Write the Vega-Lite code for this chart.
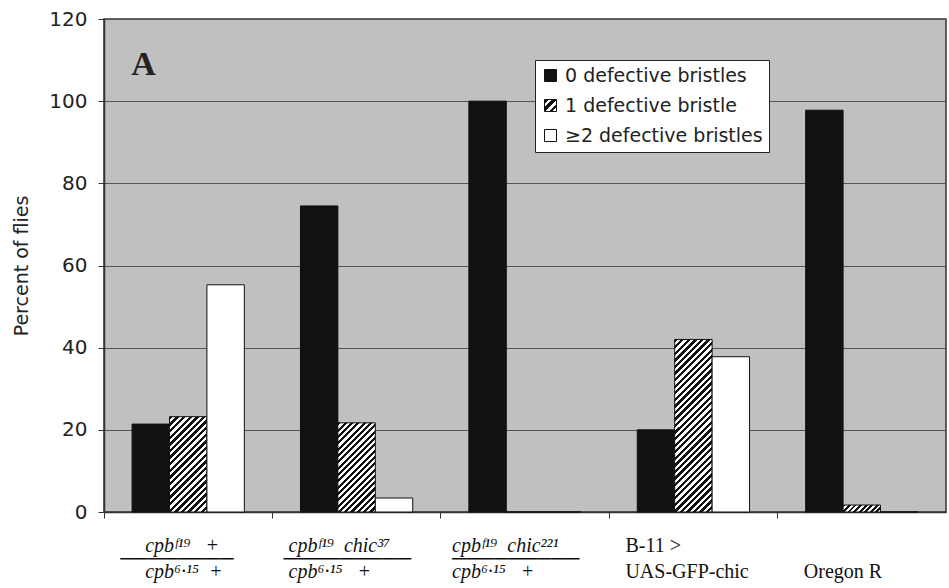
{
  "$schema": "https://vega.github.io/schema/vega-lite/v6.json",
  "width": 842,
  "height": 493,
  "autosize": {"type": "none"},
  "padding": {"left": 104, "top": 19, "right": 3, "bottom": 76},
  "background": "white",
  "config": {"view": {"fill": "#c0c0c0", "stroke": "#333", "strokeWidth": 1.5}},
  "data": {
    "values": [
      {"genotype": "cpbF19 +/cpb6.15 +", "series": "0 defective bristles", "percent": 21.4},
      {"genotype": "cpbF19 +/cpb6.15 +", "series": "1 defective bristle", "percent": 23.2},
      {"genotype": "cpbF19 +/cpb6.15 +", "series": "≥2 defective bristles", "percent": 55.3},
      {"genotype": "cpbF19 chic37/cpb6.15 +", "series": "0 defective bristles", "percent": 74.5},
      {"genotype": "cpbF19 chic37/cpb6.15 +", "series": "1 defective bristle", "percent": 21.7},
      {"genotype": "cpbF19 chic37/cpb6.15 +", "series": "≥2 defective bristles", "percent": 3.4},
      {"genotype": "cpbF19 chic221/cpb6.15 +", "series": "0 defective bristles", "percent": 100},
      {"genotype": "cpbF19 chic221/cpb6.15 +", "series": "1 defective bristle", "percent": 0},
      {"genotype": "cpbF19 chic221/cpb6.15 +", "series": "≥2 defective bristles", "percent": 0},
      {"genotype": "B-11 > UAS-GFP-chic", "series": "0 defective bristles", "percent": 20.0},
      {"genotype": "B-11 > UAS-GFP-chic", "series": "1 defective bristle", "percent": 42.0},
      {"genotype": "B-11 > UAS-GFP-chic", "series": "≥2 defective bristles", "percent": 37.8},
      {"genotype": "Oregon R", "series": "0 defective bristles", "percent": 97.8},
      {"genotype": "Oregon R", "series": "1 defective bristle", "percent": 1.7},
      {"genotype": "Oregon R", "series": "≥2 defective bristles", "percent": 0}
    ]
  },
  "layer": [
    {
      "mark": {"type": "bar", "stroke": "#111", "strokeWidth": 1},
      "encoding": {
        "x": {
          "field": "genotype", "type": "nominal", "sort": null,
          "scale": {"paddingInner": 0, "paddingOuter": 0},
          "axis": {
            "title": null, "grid": false, "bandPosition": 0, "labelAngle": 0,
            "labelAlign": "left", "labelBaseline": "top", "labelOffset": -73,
            "labelFont": "Liberation Serif", "labelFontSize": 20, "labelColor": "#111",
            "labelLineHeight": 13, "labelPadding": 17, "labelOverlap": false, "labelBound": false, "labelLimit": 400,
            "labelFontStyle": {"condition": {"test": "datum.value === 'B-11 > UAS-GFP-chic' || datum.value === 'Oregon R'", "value": "normal"}, "value": "italic"},
            "tickSize": 6, "tickColor": "#333", "domainColor": "#333", "domainWidth": 1.5,
            "labelExpr": "datum.value === 'cpbF19 +/cpb6.15 +' ? ['\u200b\u00a0\u00a0\u00a0\u00a0\u00a0\u00a0cpbᶠ¹⁹\u00a0\u00a0\u00a0+', '\u200b\u00a0────────', '\u200b\u00a0\u00a0\u00a0\u00a0\u00a0\u00a0cpb⁶·¹⁵\u00a0\u00a0+'] : datum.value === 'cpbF19 chic37/cpb6.15 +' ? ['\u200b\u00a0cpbᶠ¹⁹\u00a0\u00a0chic³⁷', '─────────', '\u200b\u00a0cpb⁶·¹⁵\u00a0\u00a0\u00a0+'] : datum.value === 'cpbF19 chic221/cpb6.15 +' ? ['cpbᶠ¹⁹\u00a0\u00a0chic²²¹', '─────────', 'cpb⁶·¹⁵\u00a0\u00a0\u00a0+'] : datum.value === 'B-11 > UAS-GFP-chic' ? ['\u200b\u00a0B-11 >', '\u200b', '\u200b\u00a0UAS-GFP-chic'] : ['\u200b', '\u200b', '\u200b\u00a0\u00a0\u00a0Oregon R']"
          }
        },
        "xOffset": {
          "field": "series", "type": "nominal",
          "scale": {"domain": ["0 defective bristles", "1 defective bristle", "≥2 defective bristles"], "paddingInner": 0, "paddingOuter": 0.75}
        },
        "y": {
          "field": "percent", "type": "quantitative",
          "scale": {"domain": [0, 120], "nice": false},
          "axis": {
            "title": "Percent of flies", "values": [0, 20, 40, 60, 80, 100, 120],
            "labelFont": "DejaVu Sans", "labelFontSize": 20, "labelColor": "#222", "labelPadding": 11,
            "tickSize": 6, "tickColor": "#333", "domainColor": "#333", "domainWidth": 1.5,
            "gridColor": "#555", "gridWidth": 1,
            "titleFont": "DejaVu Sans", "titleFontSize": 19, "titleFontWeight": "normal", "titleColor": "#222", "titlePadding": 17
          }
        },
        "fill": {
          "condition": [
            {"test": "datum.series === '1 defective bristle' && datum.genotype === 'cpbF19 +/cpb6.15 +'",
             "value": {"gradient": "linear", "x1": 0, "y1": 0, "x2": 0.4737, "y2": 1.2066, "stops": [{"offset":0,"color":"#111"},{"offset":0.025,"color":"#111"},{"offset":0.025,"color":"#fff"},{"offset":0.05,"color":"#fff"},{"offset":0.05,"color":"#111"},{"offset":0.075,"color":"#111"},{"offset":0.075,"color":"#fff"},{"offset":0.1,"color":"#fff"},{"offset":0.1,"color":"#111"},{"offset":0.125,"color":"#111"},{"offset":0.125,"color":"#fff"},{"offset":0.15,"color":"#fff"},{"offset":0.15,"color":"#111"},{"offset":0.175,"color":"#111"},{"offset":0.175,"color":"#fff"},{"offset":0.2,"color":"#fff"},{"offset":0.2,"color":"#111"},{"offset":0.225,"color":"#111"},{"offset":0.225,"color":"#fff"},{"offset":0.25,"color":"#fff"},{"offset":0.25,"color":"#111"},{"offset":0.275,"color":"#111"},{"offset":0.275,"color":"#fff"},{"offset":0.3,"color":"#fff"},{"offset":0.3,"color":"#111"},{"offset":0.325,"color":"#111"},{"offset":0.325,"color":"#fff"},{"offset":0.35,"color":"#fff"},{"offset":0.35,"color":"#111"},{"offset":0.375,"color":"#111"},{"offset":0.375,"color":"#fff"},{"offset":0.4,"color":"#fff"},{"offset":0.4,"color":"#111"},{"offset":0.425,"color":"#111"},{"offset":0.425,"color":"#fff"},{"offset":0.45,"color":"#fff"},{"offset":0.45,"color":"#111"},{"offset":0.475,"color":"#111"},{"offset":0.475,"color":"#fff"},{"offset":0.5,"color":"#fff"},{"offset":0.5,"color":"#111"},{"offset":0.525,"color":"#111"},{"offset":0.525,"color":"#fff"},{"offset":0.55,"color":"#fff"},{"offset":0.55,"color":"#111"},{"offset":0.575,"color":"#111"},{"offset":0.575,"color":"#fff"},{"offset":0.6,"color":"#fff"},{"offset":0.6,"color":"#111"},{"offset":0.625,"color":"#111"},{"offset":0.625,"color":"#fff"},{"offset":0.65,"color":"#fff"},{"offset":0.65,"color":"#111"},{"offset":0.675,"color":"#111"},{"offset":0.675,"color":"#fff"},{"offset":0.7,"color":"#fff"},{"offset":0.7,"color":"#111"},{"offset":0.725,"color":"#111"},{"offset":0.725,"color":"#fff"},{"offset":0.75,"color":"#fff"},{"offset":0.75,"color":"#111"},{"offset":0.775,"color":"#111"},{"offset":0.775,"color":"#fff"},{"offset":0.8,"color":"#fff"},{"offset":0.8,"color":"#111"},{"offset":0.825,"color":"#111"},{"offset":0.825,"color":"#fff"},{"offset":0.85,"color":"#fff"},{"offset":0.85,"color":"#111"},{"offset":0.875,"color":"#111"},{"offset":0.875,"color":"#fff"},{"offset":0.9,"color":"#fff"},{"offset":0.9,"color":"#111"},{"offset":0.925,"color":"#111"},{"offset":0.925,"color":"#fff"},{"offset":0.95,"color":"#fff"},{"offset":0.95,"color":"#111"},{"offset":0.975,"color":"#111"},{"offset":0.975,"color":"#fff"},{"offset":1,"color":"#fff"}]}},
            {"test": "datum.series === '1 defective bristle' && datum.genotype === 'cpbF19 chic37/cpb6.15 +'",
             "value": {"gradient": "linear", "x1": 0, "y1": 0, "x2": 0.5067, "y2": 1.2071, "stops": [{"offset":0,"color":"#111"},{"offset":0.025,"color":"#111"},{"offset":0.025,"color":"#fff"},{"offset":0.05,"color":"#fff"},{"offset":0.05,"color":"#111"},{"offset":0.075,"color":"#111"},{"offset":0.075,"color":"#fff"},{"offset":0.1,"color":"#fff"},{"offset":0.1,"color":"#111"},{"offset":0.125,"color":"#111"},{"offset":0.125,"color":"#fff"},{"offset":0.15,"color":"#fff"},{"offset":0.15,"color":"#111"},{"offset":0.175,"color":"#111"},{"offset":0.175,"color":"#fff"},{"offset":0.2,"color":"#fff"},{"offset":0.2,"color":"#111"},{"offset":0.225,"color":"#111"},{"offset":0.225,"color":"#fff"},{"offset":0.25,"color":"#fff"},{"offset":0.25,"color":"#111"},{"offset":0.275,"color":"#111"},{"offset":0.275,"color":"#fff"},{"offset":0.3,"color":"#fff"},{"offset":0.3,"color":"#111"},{"offset":0.325,"color":"#111"},{"offset":0.325,"color":"#fff"},{"offset":0.35,"color":"#fff"},{"offset":0.35,"color":"#111"},{"offset":0.375,"color":"#111"},{"offset":0.375,"color":"#fff"},{"offset":0.4,"color":"#fff"},{"offset":0.4,"color":"#111"},{"offset":0.425,"color":"#111"},{"offset":0.425,"color":"#fff"},{"offset":0.45,"color":"#fff"},{"offset":0.45,"color":"#111"},{"offset":0.475,"color":"#111"},{"offset":0.475,"color":"#fff"},{"offset":0.5,"color":"#fff"},{"offset":0.5,"color":"#111"},{"offset":0.525,"color":"#111"},{"offset":0.525,"color":"#fff"},{"offset":0.55,"color":"#fff"},{"offset":0.55,"color":"#111"},{"offset":0.575,"color":"#111"},{"offset":0.575,"color":"#fff"},{"offset":0.6,"color":"#fff"},{"offset":0.6,"color":"#111"},{"offset":0.625,"color":"#111"},{"offset":0.625,"color":"#fff"},{"offset":0.65,"color":"#fff"},{"offset":0.65,"color":"#111"},{"offset":0.675,"color":"#111"},{"offset":0.675,"color":"#fff"},{"offset":0.7,"color":"#fff"},{"offset":0.7,"color":"#111"},{"offset":0.725,"color":"#111"},{"offset":0.725,"color":"#fff"},{"offset":0.75,"color":"#fff"},{"offset":0.75,"color":"#111"},{"offset":0.775,"color":"#111"},{"offset":0.775,"color":"#fff"},{"offset":0.8,"color":"#fff"},{"offset":0.8,"color":"#111"},{"offset":0.825,"color":"#111"},{"offset":0.825,"color":"#fff"},{"offset":0.85,"color":"#fff"},{"offset":0.85,"color":"#111"},{"offset":0.875,"color":"#111"},{"offset":0.875,"color":"#fff"},{"offset":0.9,"color":"#fff"},{"offset":0.9,"color":"#111"},{"offset":0.925,"color":"#111"},{"offset":0.925,"color":"#fff"},{"offset":0.95,"color":"#fff"},{"offset":0.95,"color":"#111"},{"offset":0.975,"color":"#111"},{"offset":0.975,"color":"#fff"},{"offset":1,"color":"#fff"}]}},
            {"test": "datum.series === '1 defective bristle' && datum.genotype === 'B-11 > UAS-GFP-chic'",
             "value": {"gradient": "linear", "x1": 0, "y1": 0, "x2": 0.2520, "y2": 1.1622, "stops": [{"offset":0,"color":"#111"},{"offset":0.0156,"color":"#111"},{"offset":0.0156,"color":"#fff"},{"offset":0.0313,"color":"#fff"},{"offset":0.0313,"color":"#111"},{"offset":0.0469,"color":"#111"},{"offset":0.0469,"color":"#fff"},{"offset":0.0625,"color":"#fff"},{"offset":0.0625,"color":"#111"},{"offset":0.0781,"color":"#111"},{"offset":0.0781,"color":"#fff"},{"offset":0.0938,"color":"#fff"},{"offset":0.0938,"color":"#111"},{"offset":0.1094,"color":"#111"},{"offset":0.1094,"color":"#fff"},{"offset":0.125,"color":"#fff"},{"offset":0.125,"color":"#111"},{"offset":0.1406,"color":"#111"},{"offset":0.1406,"color":"#fff"},{"offset":0.1563,"color":"#fff"},{"offset":0.1563,"color":"#111"},{"offset":0.1719,"color":"#111"},{"offset":0.1719,"color":"#fff"},{"offset":0.1875,"color":"#fff"},{"offset":0.1875,"color":"#111"},{"offset":0.2031,"color":"#111"},{"offset":0.2031,"color":"#fff"},{"offset":0.2188,"color":"#fff"},{"offset":0.2188,"color":"#111"},{"offset":0.2344,"color":"#111"},{"offset":0.2344,"color":"#fff"},{"offset":0.25,"color":"#fff"},{"offset":0.25,"color":"#111"},{"offset":0.2656,"color":"#111"},{"offset":0.2656,"color":"#fff"},{"offset":0.2813,"color":"#fff"},{"offset":0.2813,"color":"#111"},{"offset":0.2969,"color":"#111"},{"offset":0.2969,"color":"#fff"},{"offset":0.3125,"color":"#fff"},{"offset":0.3125,"color":"#111"},{"offset":0.3281,"color":"#111"},{"offset":0.3281,"color":"#fff"},{"offset":0.3438,"color":"#fff"},{"offset":0.3438,"color":"#111"},{"offset":0.3594,"color":"#111"},{"offset":0.3594,"color":"#fff"},{"offset":0.375,"color":"#fff"},{"offset":0.375,"color":"#111"},{"offset":0.3906,"color":"#111"},{"offset":0.3906,"color":"#fff"},{"offset":0.4063,"color":"#fff"},{"offset":0.4063,"color":"#111"},{"offset":0.4219,"color":"#111"},{"offset":0.4219,"color":"#fff"},{"offset":0.4375,"color":"#fff"},{"offset":0.4375,"color":"#111"},{"offset":0.4531,"color":"#111"},{"offset":0.4531,"color":"#fff"},{"offset":0.4688,"color":"#fff"},{"offset":0.4688,"color":"#111"},{"offset":0.4844,"color":"#111"},{"offset":0.4844,"color":"#fff"},{"offset":0.5,"color":"#fff"},{"offset":0.5,"color":"#111"},{"offset":0.5156,"color":"#111"},{"offset":0.5156,"color":"#fff"},{"offset":0.5313,"color":"#fff"},{"offset":0.5313,"color":"#111"},{"offset":0.5469,"color":"#111"},{"offset":0.5469,"color":"#fff"},{"offset":0.5625,"color":"#fff"},{"offset":0.5625,"color":"#111"},{"offset":0.5781,"color":"#111"},{"offset":0.5781,"color":"#fff"},{"offset":0.5938,"color":"#fff"},{"offset":0.5938,"color":"#111"},{"offset":0.6094,"color":"#111"},{"offset":0.6094,"color":"#fff"},{"offset":0.625,"color":"#fff"},{"offset":0.625,"color":"#111"},{"offset":0.6406,"color":"#111"},{"offset":0.6406,"color":"#fff"},{"offset":0.6563,"color":"#fff"},{"offset":0.6563,"color":"#111"},{"offset":0.6719,"color":"#111"},{"offset":0.6719,"color":"#fff"},{"offset":0.6875,"color":"#fff"},{"offset":0.6875,"color":"#111"},{"offset":0.7031,"color":"#111"},{"offset":0.7031,"color":"#fff"},{"offset":0.7188,"color":"#fff"},{"offset":0.7188,"color":"#111"},{"offset":0.7344,"color":"#111"},{"offset":0.7344,"color":"#fff"},{"offset":0.75,"color":"#fff"},{"offset":0.75,"color":"#111"},{"offset":0.7656,"color":"#111"},{"offset":0.7656,"color":"#fff"},{"offset":0.7813,"color":"#fff"},{"offset":0.7813,"color":"#111"},{"offset":0.7969,"color":"#111"},{"offset":0.7969,"color":"#fff"},{"offset":0.8125,"color":"#fff"},{"offset":0.8125,"color":"#111"},{"offset":0.8281,"color":"#111"},{"offset":0.8281,"color":"#fff"},{"offset":0.8438,"color":"#fff"},{"offset":0.8438,"color":"#111"},{"offset":0.8594,"color":"#111"},{"offset":0.8594,"color":"#fff"},{"offset":0.875,"color":"#fff"},{"offset":0.875,"color":"#111"},{"offset":0.8906,"color":"#111"},{"offset":0.8906,"color":"#fff"},{"offset":0.9063,"color":"#fff"},{"offset":0.9063,"color":"#111"},{"offset":0.9219,"color":"#111"},{"offset":0.9219,"color":"#fff"},{"offset":0.9375,"color":"#fff"},{"offset":0.9375,"color":"#111"},{"offset":0.9531,"color":"#111"},{"offset":0.9531,"color":"#fff"},{"offset":0.9688,"color":"#fff"},{"offset":0.9688,"color":"#111"},{"offset":0.9844,"color":"#111"},{"offset":0.9844,"color":"#fff"},{"offset":1,"color":"#fff"}]}},
            {"test": "datum.series === '1 defective bristle' && datum.genotype === 'Oregon R'",
             "value": {"gradient": "linear", "x1": 0, "y1": 0, "x2": 1.1467, "y2": 0.2138, "stops": [{"offset":0,"color":"#111"},{"offset":0.0625,"color":"#111"},{"offset":0.0625,"color":"#fff"},{"offset":0.125,"color":"#fff"},{"offset":0.125,"color":"#111"},{"offset":0.1875,"color":"#111"},{"offset":0.1875,"color":"#fff"},{"offset":0.25,"color":"#fff"},{"offset":0.25,"color":"#111"},{"offset":0.3125,"color":"#111"},{"offset":0.3125,"color":"#fff"},{"offset":0.375,"color":"#fff"},{"offset":0.375,"color":"#111"},{"offset":0.4375,"color":"#111"},{"offset":0.4375,"color":"#fff"},{"offset":0.5,"color":"#fff"},{"offset":0.5,"color":"#111"},{"offset":0.5625,"color":"#111"},{"offset":0.5625,"color":"#fff"},{"offset":0.625,"color":"#fff"},{"offset":0.625,"color":"#111"},{"offset":0.6875,"color":"#111"},{"offset":0.6875,"color":"#fff"},{"offset":0.75,"color":"#fff"},{"offset":0.75,"color":"#111"},{"offset":0.8125,"color":"#111"},{"offset":0.8125,"color":"#fff"},{"offset":0.875,"color":"#fff"},{"offset":0.875,"color":"#111"},{"offset":0.9375,"color":"#111"},{"offset":0.9375,"color":"#fff"},{"offset":1,"color":"#fff"}]}}
          ],
          "field": "series", "type": "nominal",
          "scale": {
            "domain": ["0 defective bristles", "1 defective bristle", "≥2 defective bristles"],
            "range": ["#111", {"expr": "{gradient: 'linear', x1: 0, y1: 0, x2: 1, y2: 1, stops: [{offset: 0, color: '#111'}, {offset: 0.1667, color: '#111'}, {offset: 0.1667, color: '#fff'}, {offset: 0.3333, color: '#fff'}, {offset: 0.3333, color: '#111'}, {offset: 0.5, color: '#111'}, {offset: 0.5, color: '#fff'}, {offset: 0.6667, color: '#fff'}, {offset: 0.6667, color: '#111'}, {offset: 0.8333, color: '#111'}, {offset: 0.8333, color: '#fff'}, {offset: 1, color: '#fff'}]}"}, "#fff"]
          },
          "legend": {
            "title": null, "orient": "none", "legendX": 431, "legendY": 41,
            "fillColor": "white", "strokeColor": "#222", "padding": 6,
            "symbolType": "square", "symbolSize": 144, "symbolStrokeColor": "#111", "symbolStrokeWidth": 1,
            "labelFont": "DejaVu Sans", "labelFontSize": 19, "labelColor": "#222", "labelLimit": 400,
            "rowPadding": 10, "labelOffset": 5
          }
        }
      }
    },
    {
      "data": {"values": [{"label": "A"}]},
      "mark": {"type": "text", "font": "Liberation Serif", "fontWeight": "bold", "fontSize": 34, "fill": "#222", "align": "center", "baseline": "alphabetic", "dx": -44.7},
      "encoding": {
        "x": {"datum": "cpbF19 +/cpb6.15 +", "type": "nominal"},
        "y": {"datum": 106.4, "type": "quantitative"},
        "text": {"field": "label", "type": "nominal"}
      }
    }
  ]
}
